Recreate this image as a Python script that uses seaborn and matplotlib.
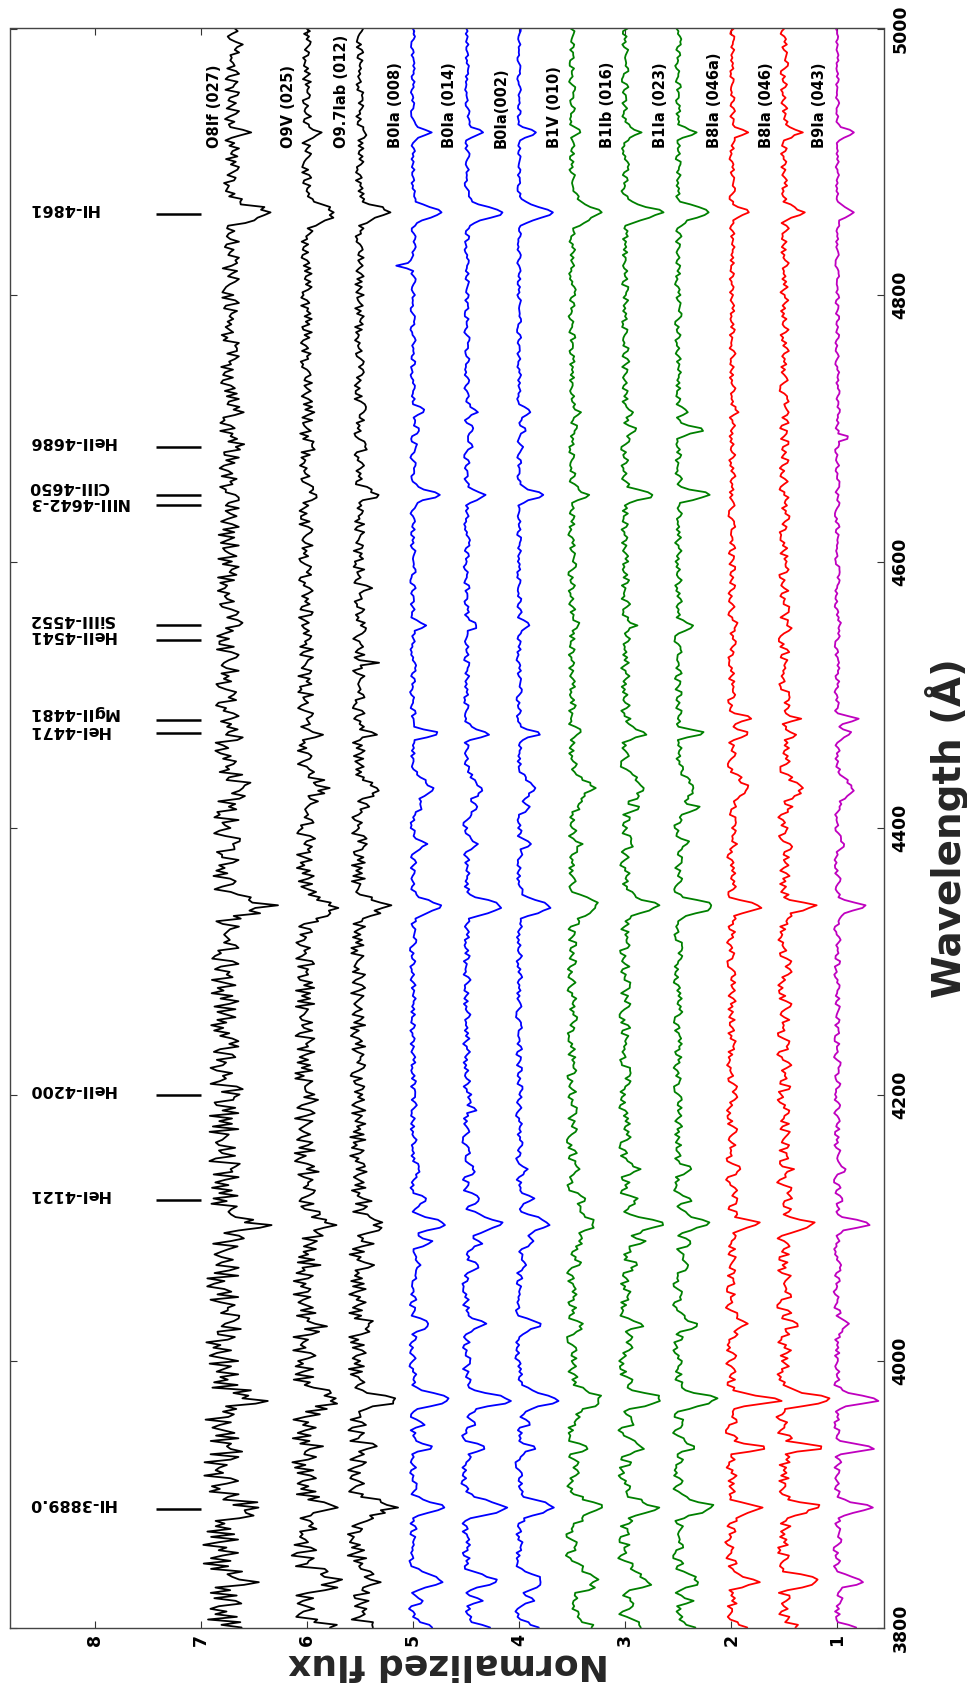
import numpy as np
import pandas as pd
import matplotlib
matplotlib.use("Agg")
import matplotlib.pyplot as plt
import seaborn as sns

# ---------------- data ----------------
names = ["O8If (027)", "O9V (025)", "O9.7Iab (012)", "B0Ia (008)", "B0Ia (014)",
         "B0Ia(002)", "B1V (010)", "B1Ib (016)", "B1Ia (023)", "B8Ia (046a)",
         "B8Ia (046)", "B9Ia (043)"]
colors = ["black", "black", "black", "blue", "blue", "blue",
          "green", "green", "green", "red", "red", (0.75, 0.0, 0.75)]

cont_blue = [6.82, 6.03, 5.53, 5.0, 4.5, 4.0, 3.5, 3.0, 2.5, 2.0, 1.5, 1.0]
cont_red = [6.70, 6.00, 5.50, 5.0, 4.49, 4.0, 3.5, 3.0, 2.5, 1.99, 1.5, 1.0]
noise_blue = [0.17, 0.12, 0.09, 0.05, 0.06, 0.05, 0.075, 0.085, 0.065, 0.075, 0.10, 0.05]
noise_red = [0.06, 0.035, 0.03, 0.025, 0.025, 0.02, 0.035, 0.04, 0.035, 0.03, 0.045, 0.02]
balmer_sigma = [5.0, 5.5, 4.5, 4.0, 4.5, 4.5, 6.0, 4.5, 4.0, 3.0, 3.0, 3.0]

line_centers = [3798, 3820, 3835, 3890, 3935, 3953, 3971, 4027, 4072, 4089, 4103,
                4121, 4144, 4200, 4341, 4388, 4415, 4430, 4471, 4482, 4552, 4650,
                4686, 4699, 4713, 4862, 4922]
line_sigma = [0, 2, 0, 0, 2.5, 2, 0, 3, 2.5, 2.5, 0, 2.5, 2.5, 3, 0, 2.5, 2.5, 6,
              2.5, 2, 2.5, 3, 2.5, 2.5, 2.5, 0, 2.5]   # 0 -> Balmer width of the star

depth_O8If = [0.2, 0.05, 0.2, 0.3, 0.15, 0, 0.32, 0.15, 0.05, 0.05, 0.32, 0.05, 0.05, 0.1,
              0.38, 0.05, 0, 0.14, 0.08, 0, 0.05, 0.05, 0.07, 0, 0.05, 0.33, 0.13]
depth_O9V = [0.25, 0.05, 0.3, 0.23, 0.1, 0, 0.29, 0.14, 0.05, 0.05, 0.25, 0.05, 0.05, 0.08,
             0.29, 0.05, 0, 0.17, 0.1, 0, 0.03, 0.05, 0.05, 0, 0.05, 0.27, 0.1]
depth_O97Iab = [0.2, 0.08, 0.2, 0.32, 0.13, 0, 0.32, 0.14, 0.08, 0.1, 0.23, 0.08, 0.06, 0.05,
                0.27, 0.06, 0.05, 0.14, 0.14, 0, 0.07, 0.2, 0.05, 0, 0.06, 0.27, 0.08]
depth_B0Ia008 = [0.2, 0.12, 0.25, 0.27, 0.16, 0.1, 0.34, 0.16, 0.1, 0.18, 0.29, 0.14, 0.08, 0.03,
                 0.28, 0.14, 0.08, 0.17, 0.23, 0, 0.1, 0.27, 0.03, 0.05, 0.1, 0.28, 0.16]
depth_B0Ia014 = [0.2, 0.12, 0.27, 0.36, 0.14, 0.1, 0.41, 0.18, 0.1, 0.16, 0.35, 0.14, 0.08, 0.03,
                 0.34, 0.12, 0.08, 0.14, 0.21, 0, 0.1, 0.17, 0.03, 0.05, 0.1, 0.32, 0.16]
depth_B0Ia002 = [0.2, 0.12, 0.23, 0.32, 0.16, 0.1, 0.38, 0.18, 0.1, 0.14, 0.29, 0.14, 0.08, 0.03,
                 0.29, 0.12, 0.08, 0.14, 0.19, 0, 0.1, 0.23, 0.03, 0.05, 0.1, 0.30, 0.16]
depth_B1V = [0.2, 0.06, 0.23, 0.23, 0.16, 0, 0.27, 0.1, 0.05, 0.06, 0.23, 0.08, 0.06, 0,
             0.23, 0.08, 0.06, 0.19, 0.07, 0, 0.05, 0.14, 0, 0.04, 0.06, 0.25, 0.06]
depth_B1Ib = [0.2, 0.1, 0.23, 0.27, 0.18, 0.05, 0.34, 0.16, 0.12, 0.16, 0.32, 0.12, 0.1, 0,
              0.32, 0.1, 0.1, 0.17, 0.21, 0.03, 0.1, 0.26, 0, 0.08, 0.08, 0.33, 0.14]
depth_B1Ia = [0.2, 0.1, 0.2, 0.34, 0.14, 0.05, 0.36, 0.18, 0.12, 0.16, 0.25, 0.12, 0.1, 0,
              0.34, 0.1, 0.18, 0.17, 0.23, 0.03, 0.14, 0.3, 0, 0.23, 0.08, 0.30, 0.17]
depth_B8Ia046a = [0.2, 0.03, 0.25, 0.29, 0.32, 0, 0.45, 0.14, 0, 0, 0.29, 0.05, 0.05, 0,
                  0.29, 0.05, 0.03, 0.14, 0.12, 0.2, 0.03, 0, 0, 0, 0.04, 0.15, 0.14]
depth_B8Ia046 = [0.2, 0.03, 0.36, 0.36, 0.36, 0, 0.47, 0.11, 0, 0, 0.32, 0.05, 0.05, 0,
                 0.29, 0.05, 0.03, 0.14, 0.12, 0.16, 0.03, 0, 0, 0, 0.04, 0.19, 0.16]
depth_B9Ia = [0.2, 0.03, 0.25, 0.36, 0.34, 0, 0.38, 0.11, 0, 0, 0.29, 0.04, 0.05, 0,
              0.28, 0.04, 0.03, 0.14, 0.12, 0.2, 0.02, 0, 0, 0, 0.04, 0.16, 0.16]
depths = [depth_O8If, depth_O9V, depth_O97Iab, depth_B0Ia008, depth_B0Ia014, depth_B0Ia002,
          depth_B1V, depth_B1Ib, depth_B1Ia, depth_B8Ia046a, depth_B8Ia046, depth_B9Ia]

# narrow individual features seen in single spectra (star index, wavelength, depth)
extra_star = [3, 4, 11, 2, 2, 0]
extra_wave = [4822, 4189, 4693, 4524, 4581, 4989]
extra_depth = [-0.14, 0.12, 0.12, 0.15, 0.10, 0.12]

# hand-read small-scale wiggle of the spectra (digits 0-9 around 4.5)
ripple_digits = (
    "4829163750" "2718493056" "6183927405" "3950718264" "7204639185" "1857302946"
    "5392081674" "8061475293" "2649318570" "9173506428" "0486275931" "6729841053"
    "3158062497" "4907318625" "7531940286" "2084765319" "5916283740" "8342097156"
    "1675439082" "6290517834" "3801964527" "9547128603" "0263859471" "4718306295"
    "7159243860" "2986701534" "5430692718" "8075134962" "1394857206" "6823410597"
    "3560978142" "9217543086" "0845216379" "4691087253" "7302659814" "2158936470"
    "5764103928" "8496372015" "1037825649" "6582914307" "3914670852" "9270385146"
    "0651248793" "4183597260" "7825061439" "2497830516" "5061724983" "8739452061"
    "1208693574" "6354187029" "3987520641" "9412065387" "0576389214" "4260951738"
    "7693274105" "2815406397" "5148739620" "8527610943" "1970283465" "6032497851"
    "3469158702")

marker_waves = [3889.0, 4121, 4200, 4471, 4481, 4541, 4552, 4642.5, 4650, 4686, 4861]
marker_names = ["HI-3889.0", "HeI-4121", "HeII-4200", "HeI-4471", "MgII-4481",
                "HeII-4541", "SiIII-4552", "NIII-4642-3", "CIII-4650", "HeII-4686", "HI-4861"]
# label shift (in Angstrom) relative to its marker
marker_label_shift = [4, 4, 4, 2.5, 5.5, 3.5, 4.5, 1.5, 6.5, 4, 4]

flux_ticks = [1, 2, 3, 4, 5, 6, 7, 8]
wave_ticks = [3800, 4000, 4200, 4400, 4600, 4800, 5000]

# ---------------- build spectra ----------------
wave = np.arange(3800.0, 5000.1, 2.0)
ripple_base = (np.array([int(c) for c in ripple_digits], dtype=float) - 4.5) / 4.5
ripple_base = np.resize(ripple_base, wave.size)
frac = (wave - 3800.0) / 1200.0

frames = []
for k, name in enumerate(names):
    cont = cont_blue[k] + (cont_red[k] - cont_blue[k]) * frac
    rip = np.roll(ripple_base, 47 * k)
    if k >= 3:
        rip = np.convolve(rip, [0.15, 0.7, 0.15], mode="same")
    amp = noise_blue[k] + (noise_red[k] - noise_blue[k]) * frac
    flux = cont + amp * rip
    for c, s, d in zip(line_centers, line_sigma, depths[k]):
        sig = balmer_sigma[k] if s == 0 else s
        flux -= d * np.exp(-0.5 * ((wave - c) / sig) ** 2)
    for st, c, d in zip(extra_star, extra_wave, extra_depth):
        if st == k:
            flux -= d * np.exp(-0.5 * ((wave - c) / 1.3) ** 2)
    frames.append(pd.DataFrame({"wave": wave, "flux": flux, "star": name}))
df = pd.concat(frames, ignore_index=True)

# ---------------- plot ----------------
sns.set_theme(style="white")
plt.rcParams["font.family"] = ["DejaVu Sans"]
plt.rcParams["font.weight"] = "bold"

W, H = 967, 1692
fig = plt.figure(figsize=(W / 100, H / 100), dpi=100)
left, right, top, bottom = 10, 884, 28.5, 1627.5
ax = fig.add_axes([left / W, 1 - bottom / H, (right - left) / W, (bottom - top) / H])

sns.lineplot(data=df, x="flux", y="wave", hue="star", hue_order=names,
             palette=dict(zip(names, colors)), orient="y", estimator=None,
             sort=False, legend=False, linewidth=1.3, ax=ax)

ax.set_xlim(8.8, 0.56)
ax.set_ylim(3800, 5000)

# line identification markers and labels
ax.hlines(marker_waves, 7.0, 7.42, color="black", linewidth=1.8)
for w, lab, sh in zip(marker_waves, marker_names, marker_label_shift):
    ax.text(8.63, w + sh, lab, rotation=180, ha="left", va="center",
            fontsize=11.5, fontweight="bold", color="black")

# spectrum labels
for k, name in enumerate(names):
    ax.text(cont_red[k] + 0.17, 4910, name, rotation=90, ha="center", va="bottom",
            fontsize=10.5, fontweight="bold", color="black")

ax.set_xticks(flux_ticks)
ax.set_xticklabels([str(v) for v in flux_ticks])
ax.set_yticks(wave_ticks)
ax.set_yticklabels([str(v) for v in wave_ticks])
ax.tick_params(axis="x", which="both", direction="in", top=True, bottom=True,
               length=5, width=0.8, labelsize=12.5, pad=4.5, colors="#333333",
               labelcolor="black")
ax.tick_params(axis="y", which="both", direction="in", left=True, right=True,
               labelleft=False, labelright=True, length=5, width=0.8,
               labelsize=12.5, pad=5.5, colors="#333333", labelcolor="black")
for t in ax.get_xticklabels():
    t.set_rotation(90)
    t.set_fontweight("bold")
for t in ax.get_yticklabels():
    t.set_rotation(90)
    t.set_va("center")
    t.set_fontweight("bold")

for sp in ax.spines.values():
    sp.set_visible(True)
    sp.set_color("#444444")
    sp.set_linewidth(1.0)

ax.set_xlabel("")
ax.set_ylabel("")
fig.text(449 / W, 1 - 1664 / H, "Normalized flux", rotation=180, ha="center",
         va="center", fontsize=26, fontweight="bold")
fig.text(947 / W, 1 - 828 / H, "Wavelength (Å)", rotation=90, ha="center",
         va="center", fontsize=28, fontweight="bold")

fig.savefig("out.png", dpi=100, facecolor="white")
